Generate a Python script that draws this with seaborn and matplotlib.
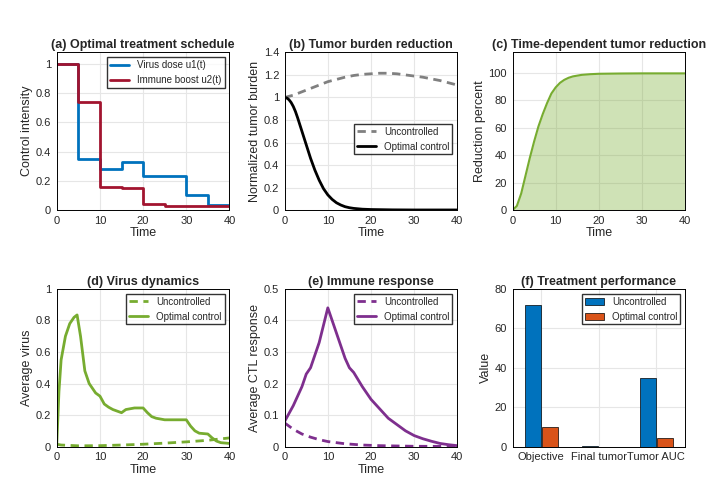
import numpy as np
import matplotlib.pyplot as plt
import seaborn as sns

# (a) step schedule, 5-day intervals
t_steps = [0, 5, 10, 15, 20, 25, 30, 35, 40]
u1 = [1.0, 0.35, 0.28, 0.33, 0.23, 0.235, 0.105, 0.035, 0.035]
u2 = [1.0, 0.74, 0.16, 0.15, 0.04, 0.025, 0.03, 0.025, 0.025]

# (b) tumor burden
t_b = [0, 2, 4, 6, 8, 10, 12, 14, 16, 18, 20, 22, 24, 26, 28, 30, 32, 34, 36, 38, 40]
tumor_unc = [1.0, 1.02, 1.05, 1.08, 1.11, 1.14, 1.16, 1.18, 1.195, 1.205, 1.21, 1.215, 1.215, 1.21, 1.2, 1.19, 1.18, 1.165, 1.15, 1.13, 1.11]
t_bo = [0, 0.5, 1, 1.5, 2, 2.5, 3, 3.5, 4, 5, 6, 7, 8, 9, 10, 11, 12, 13, 14, 15, 16, 18, 20, 25, 30, 35, 40]
tumor_opt = [1.0, 0.995, 0.98, 0.955, 0.92, 0.875, 0.82, 0.76, 0.70, 0.58, 0.46, 0.355, 0.265, 0.19, 0.135, 0.095, 0.065, 0.045, 0.03, 0.021, 0.015, 0.008, 0.005, 0.002, 0.001, 0.001, 0.001]

# (c) reduction percent
t_c = [0, 1, 2, 3, 4, 5, 6, 7, 8, 9, 10, 11, 12, 13, 14, 16, 18, 20, 25, 30, 35, 40]
reduction = [0, 3, 12, 25, 38, 50, 61, 70, 78, 85, 89.5, 92.8, 95, 96.5, 97.5, 98.6, 99.1, 99.4, 99.6, 99.7, 99.7, 99.7]

# (d) virus
t_d = [0, 0.5, 1, 2, 3, 4, 4.7, 5.5, 6.5, 7.5, 9, 10, 11, 12, 13, 15, 16, 17, 18, 20, 21, 22, 23, 25, 27, 30, 31, 32, 33, 35, 36, 37, 38, 40]
virus_opt = [0.02, 0.35, 0.55, 0.7, 0.78, 0.82, 0.835, 0.7, 0.48, 0.4, 0.34, 0.32, 0.27, 0.25, 0.235, 0.215, 0.235, 0.24, 0.245, 0.245, 0.215, 0.19, 0.18, 0.17, 0.17, 0.17, 0.13, 0.1, 0.085, 0.08, 0.055, 0.035, 0.025, 0.02]
t_du = [0, 1, 5, 10, 15, 20, 25, 30, 35, 40]
virus_unc = [0.015, 0.01, 0.005, 0.006, 0.01, 0.015, 0.022, 0.03, 0.04, 0.055]

# (e) CTL
t_e = [0, 2, 4, 5, 6, 8, 10, 12, 14, 15, 16, 18, 20, 22, 24, 26, 28, 30, 32, 34, 36, 38, 40]
ctl_opt = [0.08, 0.13, 0.19, 0.23, 0.25, 0.33, 0.44, 0.36, 0.28, 0.25, 0.235, 0.19, 0.15, 0.12, 0.09, 0.07, 0.05, 0.035, 0.025, 0.017, 0.01, 0.006, 0.003]
t_eu = [0, 2, 4, 6, 8, 10, 14, 18, 22, 26, 30, 35, 40]
ctl_unc = [0.075, 0.055, 0.04, 0.03, 0.022, 0.016, 0.009, 0.005, 0.003, 0.002, 0.001, 0.0008, 0.0005]

# (f) performance
metrics = ["Objective", "Final tumor", "Tumor AUC"]
perf_unc = [71.8, 0.4, 34.6]
perf_opt = [10.0, 0.0, 4.2]

blue = "#0072BD"
red = "#A2142F"
green = "#77AC30"
purple = "#7E2F8E"
orange = "#D95319"

sns.set_style("whitegrid", {"axes.edgecolor": "black", "grid.color": "#e6e6e6"})
plt.rcParams["font.family"] = ["Liberation Sans", "DejaVu Sans"]
plt.rcParams["font.size"] = 8

fig, axes = plt.subplots(2, 3, figsize=(7.1, 4.99), dpi=100)
fig.subplots_adjust(left=0.08, right=0.965, top=0.895, bottom=0.105, wspace=0.32, hspace=0.5)

def style(ax, title, ylabel):
    ax.set_title(title, fontweight="bold", fontsize=9, pad=3)
    ax.set_xlabel("Time", fontsize=9, labelpad=1)
    ax.set_ylabel(ylabel, fontsize=9, labelpad=2)
    ax.tick_params(length=2, pad=2, labelsize=8)
    for s in ax.spines.values():
        s.set_linewidth(0.7)

ax = axes[0, 0]
ax.step(t_steps, u1, where="post", color=blue, lw=2, label="Virus dose u1(t)")
ax.step(t_steps, u2, where="post", color=red, lw=2, label="Immune boost u2(t)")
ax.set_xlim(0, 40); ax.set_ylim(0, 1.08)
ax.set_xticks([0, 10, 20, 30, 40]); ax.set_yticks([0, 0.2, 0.4, 0.6, 0.8, 1])
ax.set_yticklabels(["0", "0.2", "0.4", "0.6", "0.8", "1"])
style(ax, "(a) Optimal treatment schedule", "Control intensity")
ax.legend(loc="upper right", fontsize=7, frameon=True, edgecolor="black", fancybox=False, borderpad=0.3, handlelength=2)

ax = axes[0, 1]
sns.lineplot(x=t_b, y=tumor_unc, ax=ax, color="gray", lw=2, ls=(0, (3, 2)), label="Uncontrolled")
sns.lineplot(x=t_bo, y=tumor_opt, ax=ax, color="black", lw=2, label="Optimal control")
ax.set_xlim(0, 40); ax.set_ylim(0, 1.4)
ax.set_xticks([0, 10, 20, 30, 40]); ax.set_yticks([0, 0.2, 0.4, 0.6, 0.8, 1, 1.2, 1.4])
ax.set_yticklabels(["0", "0.2", "0.4", "0.6", "0.8", "1", "1.2", "1.4"])
style(ax, "(b) Tumor burden reduction", "Normalized tumor burden")
ax.legend(loc="center right", bbox_to_anchor=(1.0, 0.45), fontsize=7, edgecolor="black", fancybox=False, borderpad=0.3)

ax = axes[0, 2]
ax.fill_between(t_c, reduction, color=green, alpha=0.35, lw=0)
sns.lineplot(x=t_c, y=reduction, ax=ax, color=green, lw=1.5)
ax.set_xlim(0, 40); ax.set_ylim(0, 115)
ax.set_xticks([0, 10, 20, 30, 40]); ax.set_yticks([0, 20, 40, 60, 80, 100])
style(ax, "(c) Time-dependent tumor reduction", "Reduction percent")

ax = axes[1, 0]
sns.lineplot(x=t_du, y=virus_unc, ax=ax, color=green, lw=2, ls=(0, (3, 2)), label="Uncontrolled")
sns.lineplot(x=t_d, y=virus_opt, ax=ax, color=green, lw=2, label="Optimal control")
ax.set_xlim(0, 40); ax.set_ylim(0, 1)
ax.set_xticks([0, 10, 20, 30, 40]); ax.set_yticks([0, 0.2, 0.4, 0.6, 0.8, 1])
ax.set_yticklabels(["0", "0.2", "0.4", "0.6", "0.8", "1"])
style(ax, "(d) Virus dynamics", "Average virus")
ax.legend(loc="upper right", fontsize=7, edgecolor="black", fancybox=False, borderpad=0.3)

ax = axes[1, 1]
sns.lineplot(x=t_eu, y=ctl_unc, ax=ax, color=purple, lw=2, ls=(0, (3, 2)), label="Uncontrolled")
sns.lineplot(x=t_e, y=ctl_opt, ax=ax, color=purple, lw=2, label="Optimal control")
ax.set_xlim(0, 40); ax.set_ylim(0, 0.5)
ax.set_xticks([0, 10, 20, 30, 40]); ax.set_yticks([0, 0.1, 0.2, 0.3, 0.4, 0.5])
ax.set_yticklabels(["0", "0.1", "0.2", "0.3", "0.4", "0.5"])
style(ax, "(e) Immune response", "Average CTL response")
ax.legend(loc="upper right", fontsize=7, edgecolor="black", fancybox=False, borderpad=0.3)

ax = axes[1, 2]
x = np.arange(len(metrics))
w = 0.28
ax.bar(x - w / 2 - 0.01, perf_unc, width=w, color=blue, edgecolor="black", lw=0.5, label="Uncontrolled")
ax.bar(x + w / 2 + 0.01, perf_opt, width=w, color=orange, edgecolor="black", lw=0.5, label="Optimal control")
ax.set_xlim(-0.5, 2.5); ax.set_ylim(0, 80)
ax.set_xticks(x); ax.set_xticklabels(metrics)
ax.set_yticks([0, 20, 40, 60, 80])
style(ax, "(f) Treatment performance", "Value")
ax.set_xlabel("")
ax.legend(loc="upper right", fontsize=7, edgecolor="black", fancybox=False, borderpad=0.3)

fig.savefig("out.png", dpi=100)
